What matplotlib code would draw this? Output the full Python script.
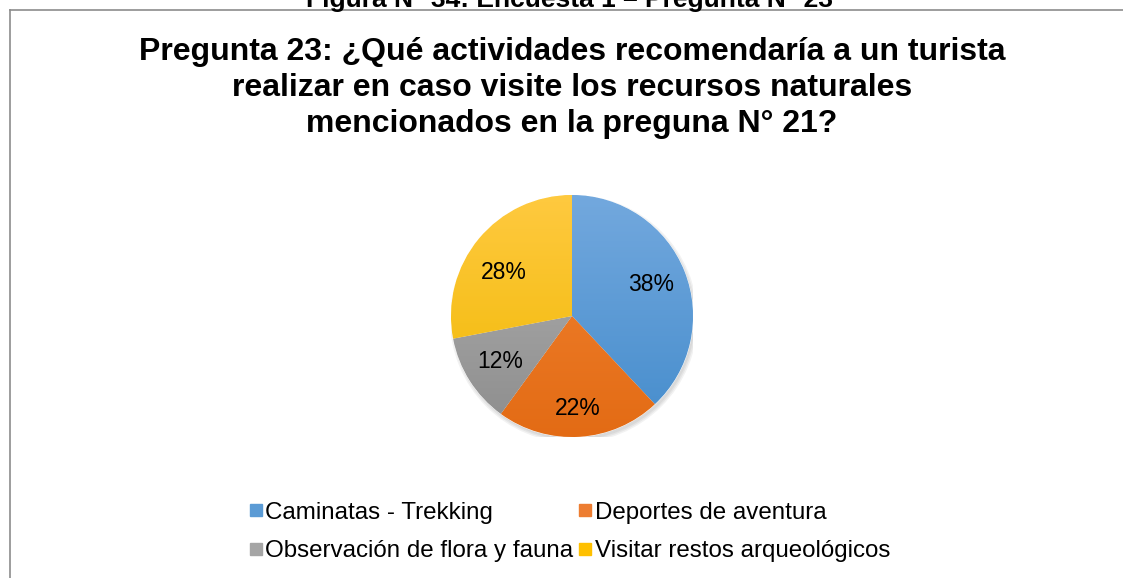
import numpy as np
import matplotlib
matplotlib.use("Agg")
import matplotlib.pyplot as plt
from matplotlib.lines import Line2D
from matplotlib.patches import Circle

plt.rcParams['font.family'] = ['Liberation Sans', 'DejaVu Sans']

categorias = ['Caminatas - Trekking', 'Deportes de aventura',
              'Observación de flora y fauna', 'Visitar restos arqueológicos']
porcentajes = [38, 22, 12, 28]
colores = ['#5b9bd5', '#ed7d31', '#a5a5a5', '#ffc000']
# gradient ends (top, bottom) for each slice
grad_top = [(0.45, 0.66, 0.87), (0.95, 0.52, 0.20), (0.70, 0.70, 0.70), (1.00, 0.79, 0.25)]
grad_bot = [(0.27, 0.55, 0.80), (0.89, 0.42, 0.08), (0.55, 0.55, 0.55), (0.94, 0.72, 0.00)]

titulo = 'Pregunta 23: ¿Qué actividades recomendaría a un turista\nrealizar en caso visite los recursos naturales\nmencionados en la preguna N° 21?'
encabezado = 'Figura N° 34: Encuesta 1 – Pregunta N° 23'

fig = plt.figure(figsize=(11.23, 5.78), dpi=100)
fig.patch.set_facecolor('white')

# page heading, cut at the top edge
fig.text(570/1123, 1.0, encabezado, ha='center', va='center', fontsize=19,
         fontweight='bold', color='black')

# chart frame (top and left edges)
fig.add_artist(Line2D([10/1123, 1.0], [1 - 10/578, 1 - 10/578], color='#8c8c8c', lw=1.2))
fig.add_artist(Line2D([10/1123, 10/1123], [0, 1 - 10/578], color='#8c8c8c', lw=1.2))

fig.text(572/1123, 1 - 88/578, titulo, ha='center', va='center', fontsize=23,
         fontweight='bold', linespacing=1.25)

ax = fig.add_axes([451/1123, (578 - 316 - 121)/578, 242/1123, 242/578])
ax.axis('off')

# soft shadow
for k in range(3):
    ax.add_patch(Circle((0.015, -0.025), 1.0 + 0.012 * k, color='black', alpha=0.05, zorder=0, lw=0))

wedges, textos, pcts = ax.pie(porcentajes, colors=colores, startangle=90, counterclock=False,
                              radius=1.0, autopct='%1.0f%%', pctdistance=0.7,
                              textprops={'fontsize': 16.5, 'color': 'black'},
                              wedgeprops={'linewidth': 0.6, 'edgecolor': 'white'})
ax.set_xlim(-1, 1)
ax.set_ylim(-1, 1)
# nudge a couple of labels
x22, y22 = pcts[1].get_position()
pcts[1].set_position((x22, y22 * 1.1))
x28, y28 = pcts[3].get_position()
pcts[3].set_position((x28 * 1.05, y28 * 0.8))

# vertical gradient fill for each slice
yy = np.linspace(1, 0, 256)[:, None]
for w, c0, c1 in zip(wedges, grad_top, grad_bot):
    img = np.zeros((256, 2, 3))
    for ch in range(3):
        img[:, :, ch] = c1[ch] + (c0[ch] - c1[ch]) * yy
    im = ax.imshow(img, extent=(-1, 1, -1, 1), aspect='auto', zorder=1.5, interpolation='bilinear')
    im.set_clip_path(w)
for t in pcts:
    t.set_zorder(3)

handles = [Line2D([], [], marker='s', ls='', markersize=8.5, markerfacecolor=c,
                  markeredgecolor=c) for c in colores]
orden = [0, 2, 1, 3]
fig.legend([handles[i] for i in orden], [categorias[i] for i in orden], ncol=2,
           loc='center', bbox_to_anchor=(570/1123, 1 - 532/578), frameon=False,
           fontsize=17.4, handlelength=0.5, handletextpad=0.15, columnspacing=0.25,
           labelspacing=0.68, borderpad=0)

fig.savefig('out.png', dpi=100, facecolor='white')
